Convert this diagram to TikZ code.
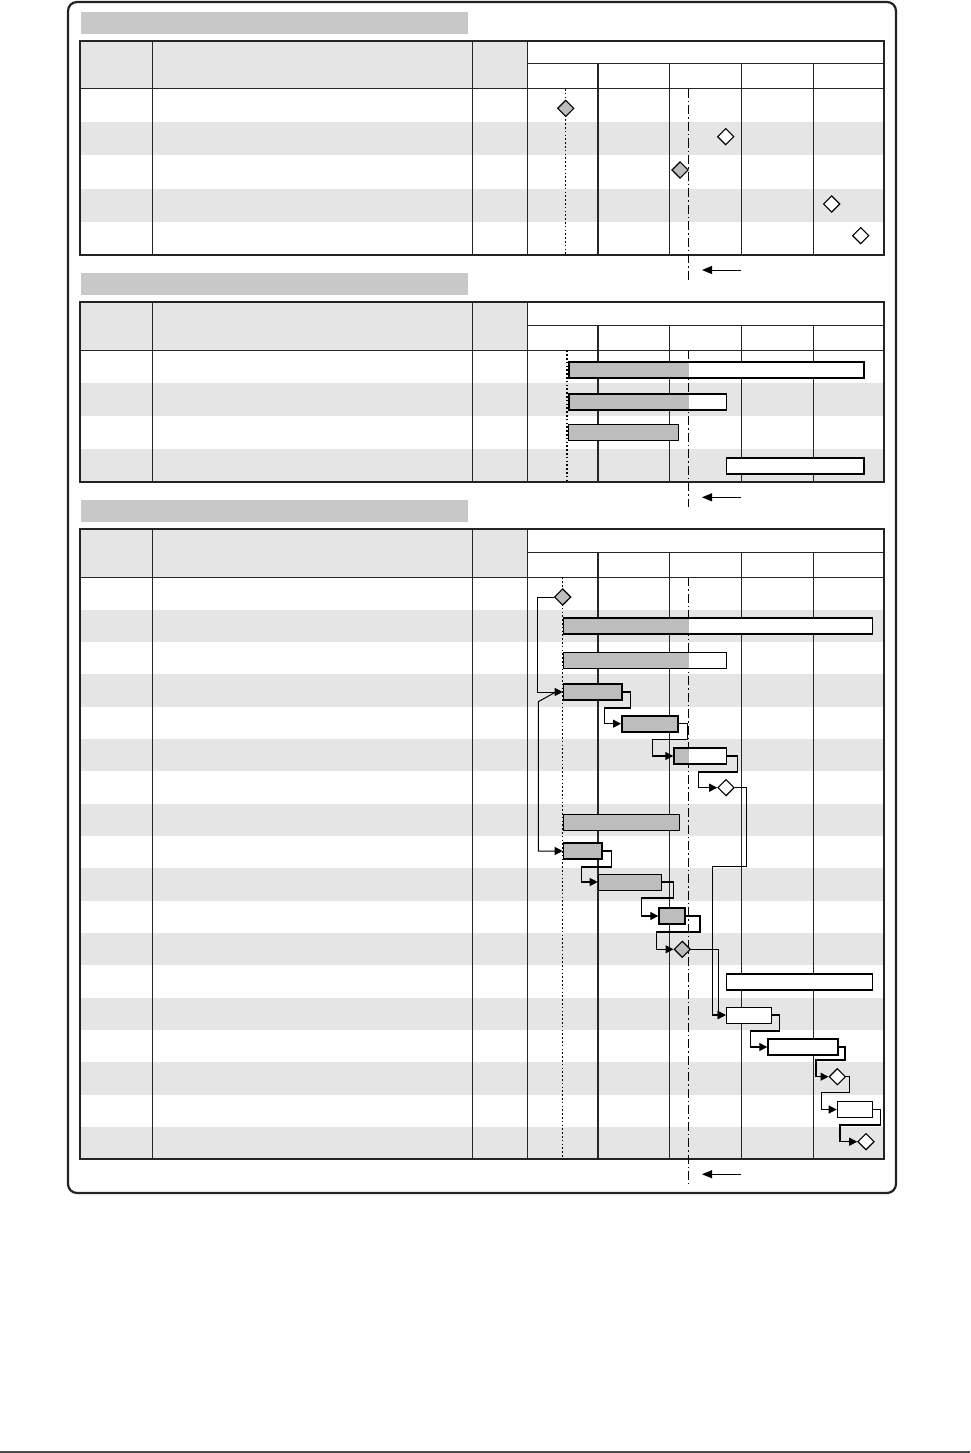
\documentclass[tikz,border=0pt]{standalone}
\usetikzlibrary{arrows.meta,positioning,calc,shapes.geometric}
\definecolor{titlegray}{RGB}{200,200,200}
\definecolor{bandgray}{RGB}{229,229,229}
\definecolor{bargray}{RGB}{189,189,189}
\definecolor{framegray}{RGB}{35,35,35}
\tikzset{
  gridline/.style={line width=1pt, draw=black!85},
  tableframe/.style={line width=2pt, draw=framegray},
  baseplan/.style={line width=1.5pt, dash pattern=on 1.6pt off 2.2pt},
  statusline/.style={line width=1pt, dash pattern=on 9pt off 3pt on 1.5pt off 3pt},
  statusarrow/.style={line width=1pt, -{Triangle[length=10pt,width=8pt]}},
  task/.style={draw, rectangle, anchor=west, minimum height=16pt, inner sep=0pt, fill=white, line width=1.7pt},
  taskthin/.style={task, line width=1pt},
  barlen/.style={minimum width=#1pt},
  progress/.style={path picture={\fill[bargray] (path picture bounding box.south west) rectangle ([xshift=#1pt]path picture bounding box.north west);}},
  mile/.style={draw, diamond, minimum width=16.5pt, minimum height=16.5pt, inner sep=0pt, line width=1.1pt, fill=white},
  deplink/.style={line width=1.2pt, -{Triangle[length=8pt,width=8pt]}}
}
% one table: top, rows, row height, baseline x
\newcommand{\gtable}[4]{%
  \pgfmathsetmacro{\ghead}{#1+48}
  \pgfmathsetmacro{\gbot}{#1+48+#2*#3}
  \fill[titlegray] (81,#1-29) rectangle (468,#1-7);
  \fill[bandgray] (80,#1) rectangle (527,\ghead);
  \foreach \rw in {2,4,...,#2}
    \fill[bandgray] (80,{\ghead+(\rw-1)*#3}) rectangle (884,{\ghead+\rw*#3});
  \foreach \cx in {152,472,527}
    \draw[gridline] (\cx,#1) -- (\cx,\gbot);
  \foreach \cx in {669,741,813}
    \draw[gridline] (\cx,#1+23) -- (\cx,\gbot);
  \draw[gridline, line width=1.6pt] (598,#1+23) -- (598,\gbot);
  \draw[gridline] (527,#1+23) -- (884,#1+23);
  \draw[gridline] (80,\ghead) -- (884,\ghead);
  \draw[tableframe] (80,#1) rectangle (884,\gbot);
  \draw[baseplan] (#4,\ghead) -- (#4,\gbot);
  \draw[statusline] (688,\ghead) -- (688,\gbot+25);
  \draw[statusarrow] (741,\gbot+15) -- (702,\gbot+15);
}
% finish-to-start link: from, to, out, down, in
\newcommand{\fslink}[5]{\draw[deplink] (#1.east) -- ++(#3,0) -- ++(0,#4) -| ([xshift=-#5pt]#2.west) -- (#2.west);}

\begin{document}
\begin{tikzpicture}[x=1pt, y=-1pt]
  \useasboundingbox (0,0) rectangle (970,1453);
  \draw[line width=2.2pt, draw=framegray, rounded corners=9pt] (68,2) rectangle (896,1193);
  \draw[line width=1.5pt, black!70] (0,1452) -- (970,1452);

  % milestones
  \gtable{41}{5}{33.2}{565.7}
  \node[mile, fill=bargray] (a1) at (565.7,108.3) {};
  \node[mile] (a2) at (725.7,136.7) {};
  \node[mile, fill=bargray] (a3) at (680,170) {};
  \node[mile] (a4) at (831.7,204) {};
  \node[mile] (a5) at (860.7,235.7) {};

  % summary bars
  \gtable{302.3}{4}{33}{567}
  \node[task, barlen=295.3, progress=120] (b1) at (568,370) {};
  \node[task, barlen=157.7, progress=120] (b2) at (568,401.7) {};
  \node[taskthin, barlen=109.7, fill=bargray] (b3) at (568,432.2) {};
  \node[task, barlen=137.6] (b4) at (725.7,465.7) {};

  % detailed schedule
  \gtable{529.3}{18}{32.33}{562.7}
  \node[mile, fill=bargray] (m1) at (562.7,597) {};
  \node[task, barlen=309, progress=125.3] (t2) at (562.7,625.8) {};
  \node[taskthin, barlen=163, progress=125.3] (t3) at (562.7,660) {};
  \node[task, barlen=58.3, fill=bargray] (t4) at (562.7,692) {};
  \node[task, barlen=56.3, fill=bargray] (t5) at (621,723.7) {};
  \node[task, barlen=52.4, progress=14.7] (t6) at (673.3,756) {};
  \node[mile] (m7) at (726,787.7) {};
  \node[taskthin, barlen=116.6, fill=bargray] (t8) at (562.7,822) {};
  \node[task, barlen=38.3, fill=bargray] (t9) at (562.7,851) {};
  \node[taskthin, barlen=63, fill=bargray] (t10) at (597.7,882) {};
  \node[task, barlen=26, fill=bargray] (t11) at (658.3,916) {};
  \node[mile, fill=bargray] (m12) at (682.3,949.3) {};
  \node[task, barlen=146] (t13) at (725.7,982) {};
  \node[taskthin, barlen=45] (t14) at (725.7,1015) {};
  \node[task, barlen=70] (t15) at (767.3,1047) {};
  \node[mile] (m16) at (837.3,1076.7) {};
  \node[taskthin, barlen=35] (t17) at (836.7,1109.5) {};
  \node[mile] (m18) at (866,1141.7) {};

  \draw[deplink, line width=1pt] (m1.west) -- ++(-16.7,0) |- (t4.west);
  \draw[deplink, line width=1pt] ([xshift=-7pt]t4.west) -- ++(-17.4,9.7) |- (t9.west);
  \fslink{t4}{t5}{8}{16}{16.7}
  \fslink{t5}{t6}{8.4}{16}{20.6}
  \fslink{t6}{m7}{10.3}{16}{19}
  \fslink{m7}{t14}{11.3}{79}{13.4}
  \fslink{t9}{t10}{9}{16}{16}
  \fslink{t10}{t11}{11.6}{16}{16.6}
  \fslink{t11}{m12}{14}{16}{17}
  \draw[deplink] (m12.east) -- ++(27.4,0) |- (t14.west);
  \fslink{t14}{t15}{7.6}{16}{16.6}
  \fslink{t15}{m16}{6}{13}{12.6}
  \fslink{m16}{t17}{3.7}{16}{15}
  \fslink{t17}{m18}{7.6}{15.5}{17.3}
\end{tikzpicture}
\end{document}
